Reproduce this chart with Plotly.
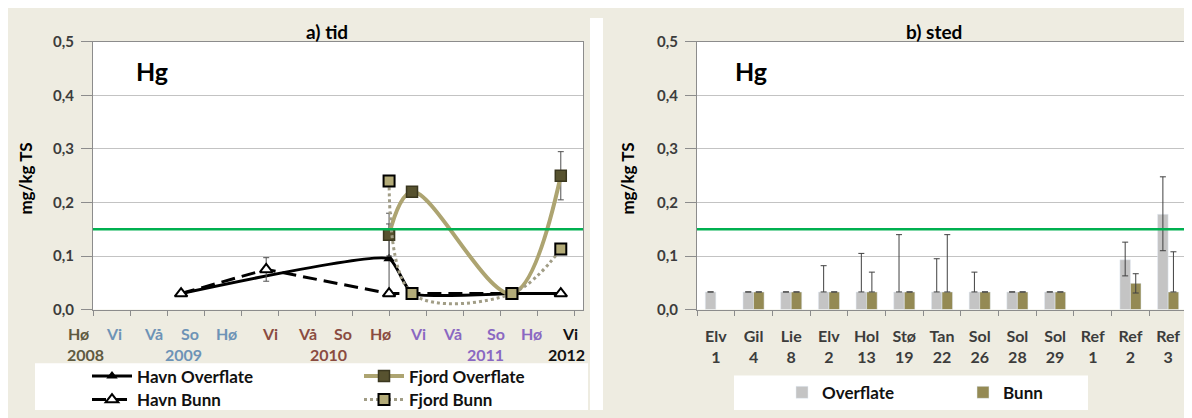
import plotly.graph_objects as go

# ---------------- data: a) tid ----------------
season_labels = ["Hø", "Vi", "Vå", "So", "Hø", "Vi", "Vå", "So", "Hø", "Vi", "Vå", "So", "Hø", "Vi"]
season_group = [0, 1, 1, 1, 1, 2, 2, 2, 2, 3, 3, 3, 3, 4]
year_labels = ["2008", "2009", "2010", "2011", "2012"]

havn_over_x = [2.38, 8.0, 8.62, 11.32, 12.64]
havn_over_y = [0.03, 0.095, 0.03, 0.03, 0.03]
havn_over_err = [0, 0.065, 0, 0, 0]

havn_bunn_x = [2.38, 4.68, 8.0, 12.64]
havn_bunn_y = [0.03, 0.075, 0.03, 0.03]
havn_bunn_err = [0, 0.022, 0, 0]

fjord_over_x = [8.0, 8.62, 11.32, 12.64]
fjord_over_y = [0.14, 0.22, 0.03, 0.25]
fjord_over_err = [0.04, 0, 0, 0.045]

fjord_bunn_x = [8.0, 8.62, 11.32, 12.64]
fjord_bunn_y = [0.24, 0.03, 0.03, 0.113]

# ---------------- data: b) sted ----------------
stations = ["Elv 1", "Gil 4", "Lie 8", "Elv 2", "Hol 13", "Stø 19", "Tan 22",
            "Sol 26", "Sol 28", "Sol 29", "Ref 1", "Ref 2", "Ref 3"]
overflate = [0.033, 0.033, 0.033, 0.033, 0.033, 0.033, 0.033, 0.033, 0.033, 0.033, None, 0.093, 0.178]
overflate_err_plus = [0, 0, 0, 0.049, 0.072, 0.107, 0.062, 0.037, 0, 0, 0, 0.033, 0.07]
overflate_err_minus = [0, 0, 0, 0, 0, 0, 0, 0, 0, 0, 0, 0.03, 0.068]
bunn = [None, 0.033, 0.033, 0.033, 0.033, 0.033, 0.033, 0.033, 0.033, 0.033, None, 0.049, 0.033]
bunn_err_plus = [0, 0, 0, 0, 0.037, 0, 0.107, 0, 0, 0, 0, 0.018, 0.075]
bunn_err_minus = [0, 0, 0, 0, 0, 0, 0, 0, 0, 0, 0, 0.018, 0]

LIMIT = 0.15

# ---------------- styling ----------------
OFF = 8                      # page body margin
W, H = 1192 - OFF, 418 - OFF
FONT = "Lato"
BEIGE = "#EEECE1"
AXIS = "#8c8c8c"
GRID = "#c3c3c3"
TICKC = "#3c3c3c"
group_colors = ["#5f5a40", "#6d93b6", "#8a4b40", "#8a68c2", "#111111"]


def px(p):
    return (p - OFF) / W


def py(p):
    return 1 - (p - OFF) / H


L0, L1 = 93, 583
R0, R1 = 697, 1187
T0, B0 = 33, 313

fig = go.Figure()

err_style = dict(type="data", color="#505050", thickness=1, width=3)

fig.add_trace(go.Scatter(
    x=havn_over_x, y=havn_over_y, name="Havn Overflate", mode="lines+markers",
    line=dict(color="black", width=3, shape="spline", smoothing=0.45),
    marker=dict(symbol="triangle-up", size=10, color="black"),
    error_y=dict(array=havn_over_err, **err_style),
    xaxis="x", yaxis="y", legend="legend"))

fig.add_trace(go.Scatter(
    x=havn_bunn_x, y=havn_bunn_y, name="Havn Bunn", mode="lines+markers",
    line=dict(color="black", width=3, dash="14px,7px"),
    marker=dict(symbol="triangle-up", size=11, color="white", line=dict(color="black", width=2)),
    error_y=dict(array=havn_bunn_err, **err_style),
    xaxis="x", yaxis="y", legend="legend3"))

fig.add_trace(go.Scatter(
    x=fjord_over_x, y=fjord_over_y, name="Fjord Overflate", mode="lines+markers",
    line=dict(color="#ada471", width=4, shape="spline", smoothing=1),
    marker=dict(symbol="square", size=11, color="#57522f", line=dict(color="#3a371f", width=1.5)),
    error_y=dict(array=fjord_over_err, **err_style),
    xaxis="x", yaxis="y", legend="legend"))

fig.add_trace(go.Scatter(
    x=fjord_bunn_x, y=fjord_bunn_y, name="Fjord Bunn", mode="lines+markers",
    line=dict(color="#a19d86", width=3, dash="dot", shape="spline", smoothing=1),
    marker=dict(symbol="square", size=11, color="#b3ab78", line=dict(color="black", width=2)),
    xaxis="x", yaxis="y", legend="legend3"))

fig.add_trace(go.Bar(
    x=stations, y=overflate, name="Overflate", marker=dict(color="#c4c4c4"),
    error_y=dict(type="data", array=overflate_err_plus, arrayminus=overflate_err_minus,
                 symmetric=False, color="#404040", thickness=1, width=3),
    xaxis="x2", yaxis="y2", legend="legend2"))

fig.add_trace(go.Bar(
    x=stations, y=bunn, name="Bunn", marker=dict(color="#948a54"),
    error_y=dict(type="data", array=bunn_err_plus, arrayminus=bunn_err_minus,
                 symmetric=False, color="#404040", thickness=1, width=3),
    xaxis="x2", yaxis="y2", legend="legend2"))

tickfont = dict(family=FONT, size=15, color=TICKC, weight="bold")

yaxis_common = dict(
    range=[0, 0.5], dtick=0.1, tickformat=".1f", showgrid=True, gridcolor=GRID, gridwidth=1,
    ticks="outside", ticklen=11, tickcolor=AXIS, showline=True, linecolor=AXIS, linewidth=1,
    ticklabelstandoff=4,
    mirror=True, zeroline=False, tickfont=tickfont, domain=[py(B0), py(T0)])

shapes = [
    # white gap between the two chart areas
    dict(type="rect", xref="paper", yref="paper", x0=px(590), x1=px(603), y0=0, y1=1,
         fillcolor="white", line_width=0, layer="below"),
    # legend boxes
    dict(type="rect", xref="paper", yref="paper", x0=px(35), x1=px(588), y0=0, y1=py(369),
         fillcolor="white", line_width=0, layer="below"),
    dict(type="rect", xref="paper", yref="paper", x0=px(734), x1=px(1088), y0=0, y1=py(382),
         fillcolor="white", line_width=0, layer="below"),
    # limit lines
    dict(type="line", xref="x domain", yref="y", x0=0, x1=1, y0=LIMIT, y1=LIMIT,
         line=dict(color="#00b050", width=2.5)),
    dict(type="line", xref="x2 domain", yref="y2", x0=0, x1=1, y0=LIMIT, y1=LIMIT,
         line=dict(color="#00b050", width=2.5)),
]

annotations = []
label_px = [78, 114, 153, 190, 226, 270, 307, 343, 380, 418, 452, 496, 531, 570]
for lab, g, p in zip(season_labels, season_group, label_px):
    annotations.append(dict(x=px(p), y=py(338), xref="paper", yref="paper", text=lab,
                            showarrow=False, xanchor="center", yanchor="middle",
                            font=dict(family=FONT, size=16, color=group_colors[g], weight="bold")))
year_px = [86, 183, 328, 485, 566]
for i, (lab, p) in enumerate(zip(year_labels, year_px)):
    annotations.append(dict(x=px(p), y=py(360), xref="paper", yref="paper", text=lab,
                            showarrow=False, xanchor="center", yanchor="middle",
                            font=dict(family=FONT, size=16, color=group_colors[i], weight="bold")))

for txt, cx in [("a) tid", 327), ("b) sted", 934)]:
    annotations.append(dict(x=px(cx), y=py(22), xref="paper", yref="paper", text=txt,
                            showarrow=False, xanchor="center", yanchor="middle",
                            font=dict(family=FONT, size=19, color="black", weight="bold")))
for cx in [134, 733]:
    annotations.append(dict(x=px(cx), y=py(63), xref="paper", yref="paper", text="Hg",
                            showarrow=False, xanchor="left", yanchor="middle",
                            font=dict(family=FONT, size=25, color="black", weight="bold")))
for cx in [26, 628]:
    annotations.append(dict(x=px(cx), y=py(176), xref="paper", yref="paper", text="mg/kg TS",
                            textangle=-90, showarrow=False, xanchor="center", yanchor="middle",
                            font=dict(family=FONT, size=17, color="black", weight="bold")))

legend_font = dict(family=FONT, size=17, color="#111111", weight="bold")

fig.update_layout(
    width=W, height=H, margin=dict(l=0, r=0, t=0, b=0),
    paper_bgcolor=BEIGE, plot_bgcolor="white",
    separators=", ",
    barmode="group", bargap=0.44, bargroupgap=0,
    xaxis=dict(domain=[px(L0), px(L1)], range=[0, 13.24], tickvals=list(range(14)),
               showticklabels=False, ticks="outside", ticklen=5, tickcolor=AXIS,
               showgrid=False, zeroline=False, showline=True, linecolor=AXIS, mirror=True,
               anchor="y"),
    yaxis=dict(anchor="x", **yaxis_common),
    xaxis2=dict(domain=[px(R0), px(R1)], type="category", range=[-0.5, 12.5],
                tickvals=stations, ticktext=[s.replace(" ", "<br>") for s in stations],
                tickson="boundaries", ticks="outside", ticklen=5, tickcolor=AXIS,
                ticklabelstandoff=12,
                showgrid=False, zeroline=False, showline=True, linecolor=AXIS, mirror=True,
                tickfont=dict(family=FONT, size=16, color=TICKC, weight="bold"), anchor="y2"),
    yaxis2=dict(anchor="x2", **yaxis_common),
    legend=dict(orientation="h", x=px(87), y=py(383), xanchor="left", yanchor="middle",
                bgcolor="rgba(0,0,0,0)", font=legend_font, entrywidth=217, itemwidth=40),
    legend3=dict(orientation="h", x=px(87), y=py(408), xanchor="left", yanchor="middle",
                 bgcolor="rgba(0,0,0,0)", font=legend_font, entrywidth=217, itemwidth=40),
    legend2=dict(orientation="h", x=px(782), y=py(400), xanchor="left", yanchor="middle",
                 bgcolor="rgba(0,0,0,0)", font=legend_font, entrywidth=136),
    shapes=shapes, annotations=annotations,
    showlegend=True,
)

fig.write_html("out.html")
